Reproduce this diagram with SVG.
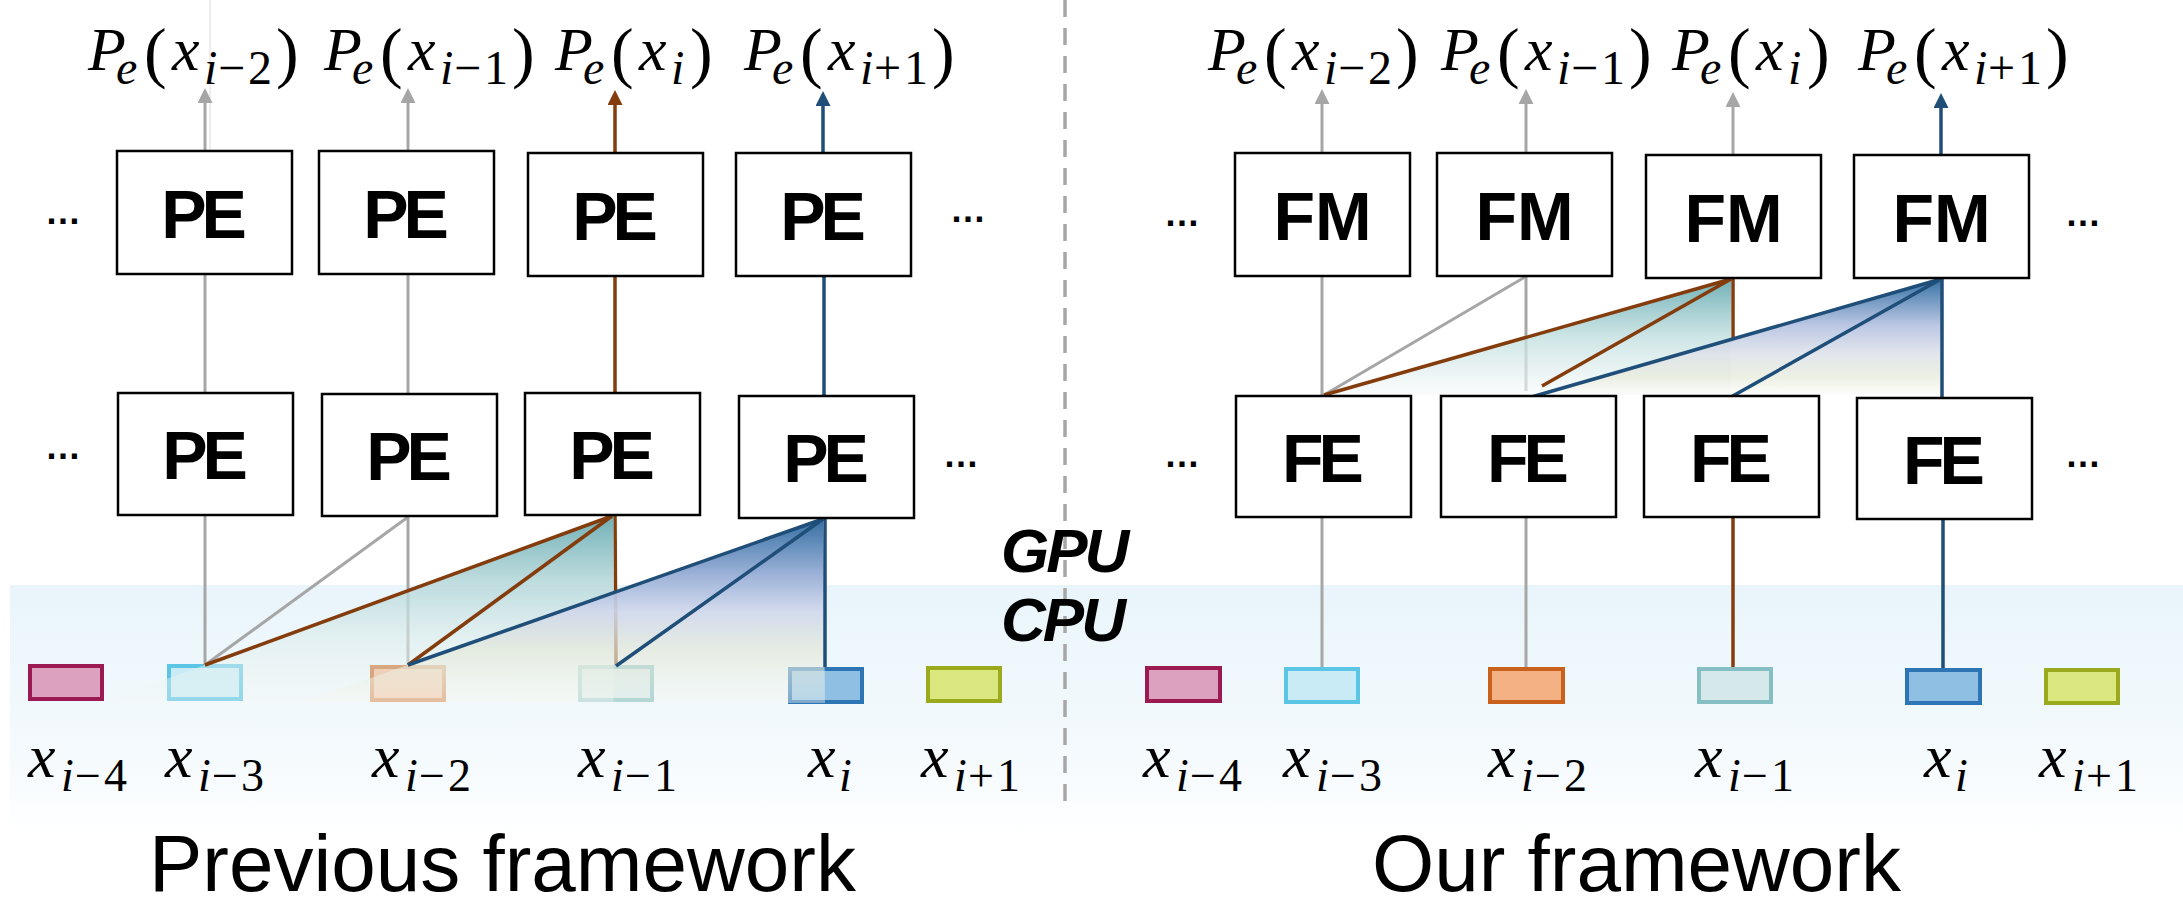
<svg xmlns="http://www.w3.org/2000/svg" width="2183" height="908" viewBox="0 0 2183 908">
<style>
.box{fill:#fff;stroke:#000;stroke-width:2.5}
.pe{font-family:"Liberation Sans",Arial,sans-serif;font-weight:bold;font-size:68px;text-anchor:middle;letter-spacing:-5px}
.fm{font-family:"Liberation Sans",Arial,sans-serif;font-weight:bold;font-size:68px;text-anchor:middle}
.mi{font-family:"Liberation Serif","DejaVu Serif",serif;font-style:italic;font-size:62px}
.mb{font-family:"Liberation Serif","DejaVu Serif",serif;font-style:italic;font-size:62px}
.r{font-style:normal}
.s{font-size:48px}
.sb{font-size:46px}
.pr{font-style:normal;font-size:68px}
.g{stroke:#a6a6a6;stroke-width:3;fill:none}
.br{stroke:#843c0c;stroke-width:3.5;fill:none}
.bl{stroke:#1f4e79;stroke-width:3.5;fill:none}
.dots{font-family:"Liberation Sans",Arial,sans-serif;font-size:36px;font-weight:bold}
.title{font-family:"Liberation Sans",Arial,sans-serif;font-size:80px}
.cg{font-family:"Liberation Sans",Arial,sans-serif;font-size:62px;font-weight:bold;font-style:italic;letter-spacing:-3px}
.sq{stroke-width:4}
</style>
<defs>
<marker id="ag" viewBox="0 0 15 15" refX="7" refY="7.5" markerWidth="15" markerHeight="15" markerUnits="userSpaceOnUse" orient="auto"><path d="M0,0 L15,7.5 L0,15 z" fill="#a6a6a6"/></marker>
<marker id="ab" viewBox="0 0 15 15" refX="7" refY="7.5" markerWidth="15" markerHeight="15" markerUnits="userSpaceOnUse" orient="auto"><path d="M0,0 L15,7.5 L0,15 z" fill="#843c0c"/></marker>
<marker id="al" viewBox="0 0 15 15" refX="7" refY="7.5" markerWidth="15" markerHeight="15" markerUnits="userSpaceOnUse" orient="auto"><path d="M0,0 L15,7.5 L0,15 z" fill="#1f4e79"/></marker>
<linearGradient id="band" x1="0" y1="0" x2="0" y2="1">
<stop offset="0" stop-color="#e9f5fb"/><stop offset="0.7" stop-color="#f5fafd"/><stop offset="1" stop-color="#ffffff"/>
</linearGradient>
<linearGradient id="tealL" x1="0" y1="0" x2="0" y2="1">
<stop offset="0" stop-color="#68acb3" stop-opacity="0.95"/>
<stop offset="0.35" stop-color="#b3d6d8" stop-opacity="0.85"/>
<stop offset="0.65" stop-color="#dcecea" stop-opacity="0.6"/>
<stop offset="1" stop-color="#f5f8f5" stop-opacity="0.35"/>
</linearGradient>
<linearGradient id="blueL" x1="0" y1="0" x2="0" y2="1">
<stop offset="0" stop-color="#356fa3"/>
<stop offset="0.3" stop-color="#98afd6" stop-opacity="0.97"/>
<stop offset="0.5" stop-color="#d0d7ec" stop-opacity="0.92"/>
<stop offset="0.72" stop-color="#e3e8d8" stop-opacity="0.7"/>
<stop offset="1" stop-color="#f5f8f2" stop-opacity="0.4"/>
</linearGradient>
<linearGradient id="tealR" x1="0" y1="0" x2="0" y2="1">
<stop offset="0" stop-color="#68acb3" stop-opacity="0.95"/>
<stop offset="0.5" stop-color="#c2dfdf" stop-opacity="0.8"/>
<stop offset="1" stop-color="#f6fafa" stop-opacity="0.6"/>
</linearGradient>
<linearGradient id="blueR" x1="0" y1="0" x2="0" y2="1">
<stop offset="0" stop-color="#3571a5"/>
<stop offset="0.4" stop-color="#b9c5e3" stop-opacity="0.97"/>
<stop offset="0.65" stop-color="#dfe3ea" stop-opacity="0.9"/>
<stop offset="0.85" stop-color="#e8ecdc" stop-opacity="0.8"/>
<stop offset="1" stop-color="#fbfcf8" stop-opacity="0.6"/>
</linearGradient>
</defs>

<rect id="cpu-band" x="10" y="585" width="2173" height="250" fill="url(#band)"/>
<line x1="210" y1="0" x2="210" y2="150" stroke="#e3e3e3" stroke-width="1.2"/>
<line id="divider" x1="1065" y1="0" x2="1065" y2="808" stroke="#a6a6a6" stroke-width="3.5" stroke-dasharray="17 11"/>

<g id="sq-L-i4"><rect class="sq" x="30" y="666" width="72" height="33" fill="#dba1bf" stroke="#9b1a52"/></g>
<g id="sq-L-i3"><rect class="sq" x="169" y="666" width="72" height="33" fill="#c8ebf5" stroke="#5bc5e6"/></g>
<g id="sq-L-i2"><rect class="sq" x="372" y="667" width="72" height="33" fill="#f4b183" stroke="#c9601b"/></g>
<g id="sq-L-i1"><rect class="sq" x="580" y="667" width="72" height="33" fill="#d6e9ea" stroke="#86bfc3"/></g>
<g id="sq-L-i"><rect class="sq" x="790" y="669" width="72" height="33" fill="#8fbfe3" stroke="#2e75b6"/></g>
<g id="sq-L-ip1"><rect class="sq" x="928" y="668" width="72" height="33" fill="#dbe77f" stroke="#9aaa1c"/></g>
<g id="sq-R-i4"><rect class="sq" x="1147" y="668" width="73" height="33" fill="#dba1bf" stroke="#9b1a52"/></g>
<g id="sq-R-i3"><rect class="sq" x="1286" y="669" width="72" height="33" fill="#c8ebf5" stroke="#5bc5e6"/></g>
<g id="sq-R-i2"><rect class="sq" x="1490" y="669" width="73" height="33" fill="#f4b183" stroke="#c9601b"/></g>
<g id="sq-R-i1"><rect class="sq" x="1699" y="669" width="72" height="33" fill="#d6e9ea" stroke="#86bfc3"/></g>
<g id="sq-R-i"><rect class="sq" x="1907" y="670" width="73" height="33" fill="#8fbfe3" stroke="#2e75b6"/></g>
<g id="sq-R-ip1"><rect class="sq" x="2046" y="670" width="72" height="33" fill="#dbe77f" stroke="#9aaa1c"/></g>

<g id="connectors">
<line class="g" x1="205" y1="151" x2="205" y2="96" marker-end="url(#ag)"/>
<line class="g" x1="408" y1="151" x2="408" y2="96" marker-end="url(#ag)"/>
<line class="br" x1="615" y1="153" x2="615" y2="98" marker-end="url(#ab)"/>
<line class="bl" x1="823" y1="153" x2="823" y2="99" marker-end="url(#al)"/>
<line class="g" x1="205" y1="274" x2="205" y2="393"/>
<line class="g" x1="408" y1="274" x2="408" y2="394"/>
<line class="br" x1="615" y1="276" x2="615" y2="393"/>
<line class="bl" x1="824" y1="276" x2="824" y2="396"/>
<line class="g" x1="408" y1="517" x2="408" y2="665"/>
<line class="br" x1="615" y1="516" x2="616" y2="665"/>
<polygon points="612,516 101,703 613.5,703 613.5,516" fill="url(#tealL)"/>
<polygon points="823,519 300,703 825,703" fill="url(#blueL)"/>
<line class="g" x1="205" y1="516" x2="205" y2="665"/>
<line class="g" x1="408" y1="517" x2="205" y2="665"/>
<line class="br" x1="612" y1="516" x2="205" y2="665"/>
<line class="br" x1="612" y1="516" x2="408" y2="665"/>
<line class="bl" x1="823" y1="519" x2="408" y2="665"/>
<line class="bl" x1="823" y1="519" x2="616" y2="666"/>
<line class="bl" x1="825" y1="518" x2="825" y2="667"/>

<line class="g" x1="1322" y1="153" x2="1322" y2="97" marker-end="url(#ag)"/>
<line class="g" x1="1526" y1="153" x2="1526" y2="97" marker-end="url(#ag)"/>
<line class="g" x1="1733" y1="155" x2="1733" y2="100" marker-end="url(#ag)"/>
<line class="bl" x1="1941" y1="155" x2="1941" y2="101" marker-end="url(#al)"/>
<line class="g" x1="1322" y1="276" x2="1322" y2="396"/>
<line class="g" x1="1526" y1="277" x2="1526" y2="391"/>
<line class="br" x1="1733" y1="279" x2="1733" y2="340"/>
<polygon points="1731,279 1324,395 1731.5,395" fill="url(#tealR)"/>
<polygon points="1941,279 1536,395 1942,395" fill="url(#blueR)"/>
<line class="g" x1="1525" y1="277" x2="1324" y2="395"/>
<line class="br" x1="1731" y1="279" x2="1324" y2="395"/>
<line class="br" x1="1731" y1="279" x2="1542" y2="386"/>
<line class="bl" x1="1941" y1="279" x2="1528" y2="398"/>
<line class="bl" x1="1941" y1="279" x2="1731" y2="397"/>
<line class="bl" x1="1942" y1="278" x2="1942" y2="398"/>
<line class="g" x1="1322" y1="518" x2="1322" y2="667"/>
<line class="g" x1="1526" y1="518" x2="1526" y2="667"/>
<line class="br" x1="1733" y1="517" x2="1733" y2="667"/>
<line class="bl" x1="1943" y1="519" x2="1943" y2="668"/>
</g>

<g id="pe-top-1"><rect class="box" x="117" y="151" width="175" height="123"/><text class="pe" x="201.5" y="237.5">PE</text></g>
<g id="pe-top-2"><rect class="box" x="319" y="151" width="175" height="123"/><text class="pe" x="403.5" y="237.5">PE</text></g>
<g id="pe-top-3"><rect class="box" x="528" y="153" width="175" height="123"/><text class="pe" x="612.5" y="239.5">PE</text></g>
<g id="pe-top-4"><rect class="box" x="736" y="153" width="175" height="123"/><text class="pe" x="820.5" y="239.5">PE</text></g>
<g id="pe-bot-1"><rect class="box" x="118" y="393" width="175" height="122"/><text class="pe" x="202.5" y="479">PE</text></g>
<g id="pe-bot-2"><rect class="box" x="322" y="394" width="175" height="122"/><text class="pe" x="406.5" y="480">PE</text></g>
<g id="pe-bot-3"><rect class="box" x="525" y="393" width="175" height="122"/><text class="pe" x="609.5" y="479">PE</text></g>
<g id="pe-bot-4"><rect class="box" x="739" y="396" width="175" height="122"/><text class="pe" x="823.5" y="482">PE</text></g>

<g id="fm-1"><rect class="box" x="1235" y="153" width="175" height="123"/><text class="fm" x="1322.5" y="239.5">FM</text></g>
<g id="fm-2"><rect class="box" x="1437" y="153" width="175" height="123"/><text class="fm" x="1524.5" y="239.5">FM</text></g>
<g id="fm-3"><rect class="box" x="1646" y="155" width="175" height="123"/><text class="fm" x="1733.5" y="241.5">FM</text></g>
<g id="fm-4"><rect class="box" x="1854" y="155" width="175" height="123"/><text class="fm" x="1941.5" y="241.5">FM</text></g>
<g id="fe-1"><rect class="box" x="1236" y="396" width="175" height="121"/><text class="pe" x="1320.5" y="481.5">FE</text></g>
<g id="fe-2"><rect class="box" x="1441" y="396" width="175" height="121"/><text class="pe" x="1525.5" y="481.5">FE</text></g>
<g id="fe-3"><rect class="box" x="1644" y="396" width="175" height="121"/><text class="pe" x="1728.5" y="481.5">FE</text></g>
<g id="fe-4"><rect class="box" x="1857" y="398" width="175" height="121"/><text class="pe" x="1941.5" y="483.5">FE</text></g>

<g id="ellipses">
<text class="dots" x="45" y="224">…</text>
<text class="dots" x="950" y="222">…</text>
<text class="dots" x="45" y="459">…</text>
<text class="dots" x="943" y="467">…</text>
<text class="dots" x="1164" y="226">…</text>
<text class="dots" x="2065" y="226">…</text>
<text class="dots" x="1164" y="467">…</text>
<text class="dots" x="2065" y="467">…</text>
</g>

<g id="out-L1"><text class="mi"><tspan x="88" y="70">P</tspan><tspan class="s" x="116" y="84">e</tspan><tspan class="pr" x="144" y="75">(</tspan><tspan x="172" y="70">x</tspan><tspan class="s" x="204" y="84">i</tspan><tspan class="s r" x="218" y="84">−</tspan><tspan class="s r" x="248" y="84">2</tspan><tspan class="pr" x="276" y="75">)</tspan></text></g>
<g id="out-L2"><text class="mi"><tspan x="324" y="70">P</tspan><tspan class="s" x="352" y="84">e</tspan><tspan class="pr" x="380" y="75">(</tspan><tspan x="408" y="70">x</tspan><tspan class="s" x="440" y="84">i</tspan><tspan class="s r" x="454" y="84">−</tspan><tspan class="s r" x="484" y="84">1</tspan><tspan class="pr" x="512" y="75">)</tspan></text></g>
<g id="out-L3"><text class="mi"><tspan x="555" y="70">P</tspan><tspan class="s" x="583" y="84">e</tspan><tspan class="pr" x="611" y="75">(</tspan><tspan x="639" y="70">x</tspan><tspan class="s" x="671" y="84">i</tspan><tspan class="pr" x="690" y="75">)</tspan></text></g>
<g id="out-L4"><text class="mi"><tspan x="744" y="70">P</tspan><tspan class="s" x="772" y="84">e</tspan><tspan class="pr" x="800" y="75">(</tspan><tspan x="828" y="70">x</tspan><tspan class="s" x="860" y="84">i</tspan><tspan class="s r" x="874" y="84">+</tspan><tspan class="s r" x="904" y="84">1</tspan><tspan class="pr" x="932" y="75">)</tspan></text></g>
<g id="out-R1"><text class="mi"><tspan x="1208" y="70">P</tspan><tspan class="s" x="1236" y="84">e</tspan><tspan class="pr" x="1264" y="75">(</tspan><tspan x="1292" y="70">x</tspan><tspan class="s" x="1324" y="84">i</tspan><tspan class="s r" x="1338" y="84">−</tspan><tspan class="s r" x="1368" y="84">2</tspan><tspan class="pr" x="1396" y="75">)</tspan></text></g>
<g id="out-R2"><text class="mi"><tspan x="1441" y="70">P</tspan><tspan class="s" x="1469" y="84">e</tspan><tspan class="pr" x="1497" y="75">(</tspan><tspan x="1525" y="70">x</tspan><tspan class="s" x="1557" y="84">i</tspan><tspan class="s r" x="1571" y="84">−</tspan><tspan class="s r" x="1601" y="84">1</tspan><tspan class="pr" x="1629" y="75">)</tspan></text></g>
<g id="out-R3"><text class="mi"><tspan x="1672" y="70">P</tspan><tspan class="s" x="1700" y="84">e</tspan><tspan class="pr" x="1728" y="75">(</tspan><tspan x="1756" y="70">x</tspan><tspan class="s" x="1788" y="84">i</tspan><tspan class="pr" x="1807" y="75">)</tspan></text></g>
<g id="out-R4"><text class="mi"><tspan x="1858" y="70">P</tspan><tspan class="s" x="1886" y="84">e</tspan><tspan class="pr" x="1914" y="75">(</tspan><tspan x="1942" y="70">x</tspan><tspan class="s" x="1974" y="84">i</tspan><tspan class="s r" x="1988" y="84">+</tspan><tspan class="s r" x="2018" y="84">1</tspan><tspan class="pr" x="2046" y="75">)</tspan></text></g>

<g id="in-labels">
<text class="mb"><tspan x="28" y="777">x</tspan><tspan class="sb" x="61" y="791">i</tspan><tspan class="sb r" x="75" y="791">−</tspan><tspan class="sb r" x="104" y="791">4</tspan></text>
<text class="mb"><tspan x="165" y="777">x</tspan><tspan class="sb" x="198" y="791">i</tspan><tspan class="sb r" x="212" y="791">−</tspan><tspan class="sb r" x="241" y="791">3</tspan></text>
<text class="mb"><tspan x="372" y="777">x</tspan><tspan class="sb" x="405" y="791">i</tspan><tspan class="sb r" x="419" y="791">−</tspan><tspan class="sb r" x="448" y="791">2</tspan></text>
<text class="mb"><tspan x="578" y="777">x</tspan><tspan class="sb" x="611" y="791">i</tspan><tspan class="sb r" x="625" y="791">−</tspan><tspan class="sb r" x="654" y="791">1</tspan></text>
<text class="mb"><tspan x="808" y="777">x</tspan><tspan class="sb" x="839" y="791">i</tspan></text>
<text class="mb"><tspan x="921" y="777">x</tspan><tspan class="sb" x="954" y="791">i</tspan><tspan class="sb r" x="968" y="791">+</tspan><tspan class="sb r" x="997" y="791">1</tspan></text>
<text class="mb"><tspan x="1143" y="777">x</tspan><tspan class="sb" x="1176" y="791">i</tspan><tspan class="sb r" x="1190" y="791">−</tspan><tspan class="sb r" x="1219" y="791">4</tspan></text>
<text class="mb"><tspan x="1283" y="777">x</tspan><tspan class="sb" x="1316" y="791">i</tspan><tspan class="sb r" x="1330" y="791">−</tspan><tspan class="sb r" x="1359" y="791">3</tspan></text>
<text class="mb"><tspan x="1488" y="777">x</tspan><tspan class="sb" x="1521" y="791">i</tspan><tspan class="sb r" x="1535" y="791">−</tspan><tspan class="sb r" x="1564" y="791">2</tspan></text>
<text class="mb"><tspan x="1695" y="777">x</tspan><tspan class="sb" x="1728" y="791">i</tspan><tspan class="sb r" x="1742" y="791">−</tspan><tspan class="sb r" x="1771" y="791">1</tspan></text>
<text class="mb"><tspan x="1924" y="777">x</tspan><tspan class="sb" x="1955" y="791">i</tspan></text>
<text class="mb"><tspan x="2039" y="777">x</tspan><tspan class="sb" x="2072" y="791">i</tspan><tspan class="sb r" x="2086" y="791">+</tspan><tspan class="sb r" x="2115" y="791">1</tspan></text>
</g>

<g id="gpu-cpu">
<text class="cg" x="1001" y="572">GPU</text>
<text class="cg" x="1001" y="641">CPU</text>
</g>

<g id="titles">
<text class="title" x="149" y="891">Previous framework</text>
<text class="title" x="1372" y="891">Our framework</text>
</g>
</svg>
